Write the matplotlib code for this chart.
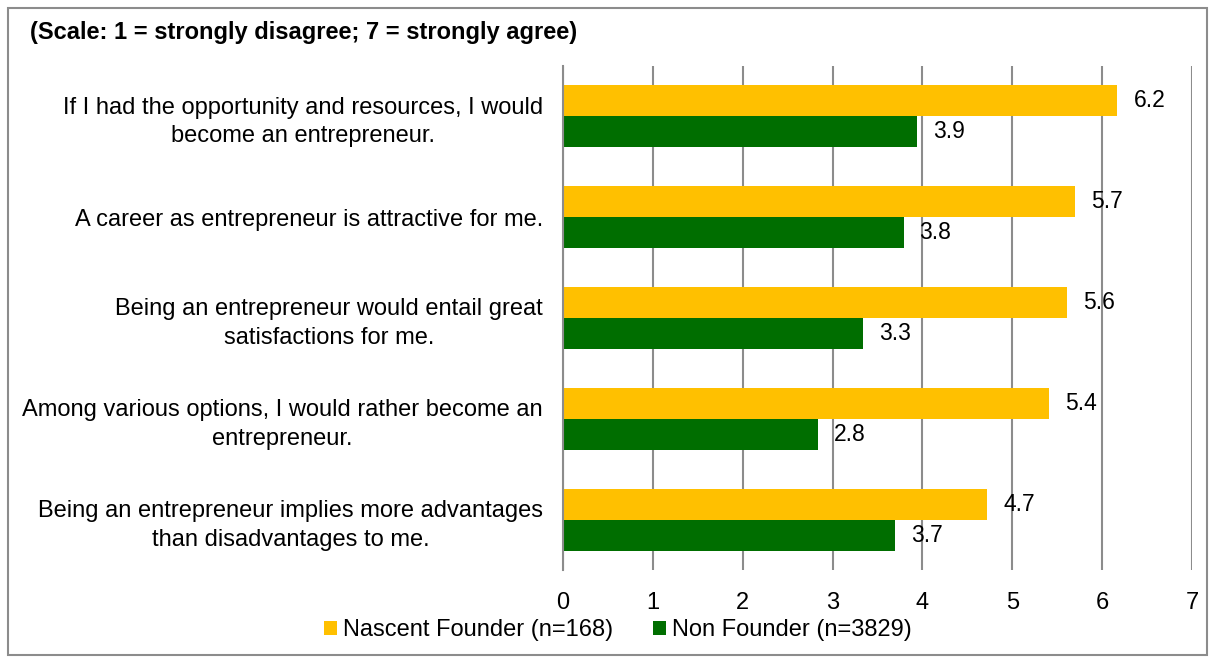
import matplotlib
matplotlib.use("Agg")
import matplotlib.pyplot as plt
from matplotlib.patches import Rectangle
import numpy as np

categories = [
    "If I had the opportunity and resources, I would\nbecome an entrepreneur.",
    "A career as entrepreneur is attractive for me.",
    "Being an entrepreneur would entail great\nsatisfactions for me.",
    "Among various options, I would rather become an\nentrepreneur.",
    "Being an entrepreneur implies more advantages\nthan disadvantages to me.",
]
nascent = [6.17, 5.70, 5.61, 5.41, 4.72]
non_founder = [3.94, 3.79, 3.34, 2.84, 3.70]
series_names = ["Nascent Founder (n=168)", "Non Founder (n=3829)"]
title = "(Scale: 1 = strongly disagree; 7 = strongly agree)"
xticks = [0, 1, 2, 3, 4, 5, 6, 7]

YELLOW = "#FFC000"
GREEN = "#006E00"
GRID = "#8C8C8C"
FS = 17

plt.rcParams['font.family'] = ['Liberation Sans', 'DejaVu Sans']

W, H = 1214, 662
fig = plt.figure(figsize=(W / 100, H / 100), dpi=100)
ax = fig.add_axes([563 / W, 1 - 570 / H, (1192 - 563) / W, (570 - 66) / H])

n = len(categories)
y = np.arange(n)
bh = 0.307
ax.barh(y - bh / 2, nascent, height=bh, color=YELLOW, zorder=3, label=series_names[0])
ax.barh(y + bh / 2, non_founder, height=bh, color=GREEN, zorder=3, label=series_names[1])

for vals, off in ((nascent, -bh / 2), (non_founder, bh / 2)):
    for i, v in enumerate(vals):
        ax.annotate(f"{v:.1f}", xy=(v, i + off), xytext=(11.5, 0), textcoords="offset points",
                    ha="left", va="center", fontsize=FS - 0.5, color="black", zorder=4)

ax.set_ylim(n - 0.5, -0.5)
ax.set_xlim(0, 7)
ax.set_xticks(xticks)
ax.set_xticklabels([str(t) for t in xticks], fontsize=FS)
ax.set_yticks(y)
ax.set_yticklabels(categories, fontsize=FS, multialignment="center")
for lab in ax.get_yticklabels():
    lab.set_linespacing(1.38)
ax.tick_params(axis="y", length=0, pad=14.5)
ax.tick_params(axis="x", length=0, pad=16)
ax.xaxis.grid(True, color=GRID, linewidth=1.5, zorder=0)
for s in ("top", "right", "bottom"):
    ax.spines[s].set_visible(False)
ax.spines["left"].set_color(GRID)
ax.spines["left"].set_linewidth(1.5)
ax.spines["left"].set_zorder(4)

fig.text(30 / W, 1 - 33 / H, title, fontsize=FS, fontweight="bold", ha="left", va="center")

handles, labels = ax.get_legend_handles_labels()
leg = fig.legend(handles, labels, loc="center", bbox_to_anchor=(618 / W, 1 - 630 / H), ncol=2,
                 frameon=False, fontsize=FS, handlelength=0.55, handleheight=0.55,
                 handletextpad=0.25, columnspacing=1.7, borderpad=0, borderaxespad=0)

fig.patches.append(Rectangle((8 / W, 7 / H), (1207 - 8) / W, (655 - 8) / H, transform=fig.transFigure,
                             fill=False, edgecolor="#8C8C8C", linewidth=1.5))

fig.savefig("out.png", dpi=100)
